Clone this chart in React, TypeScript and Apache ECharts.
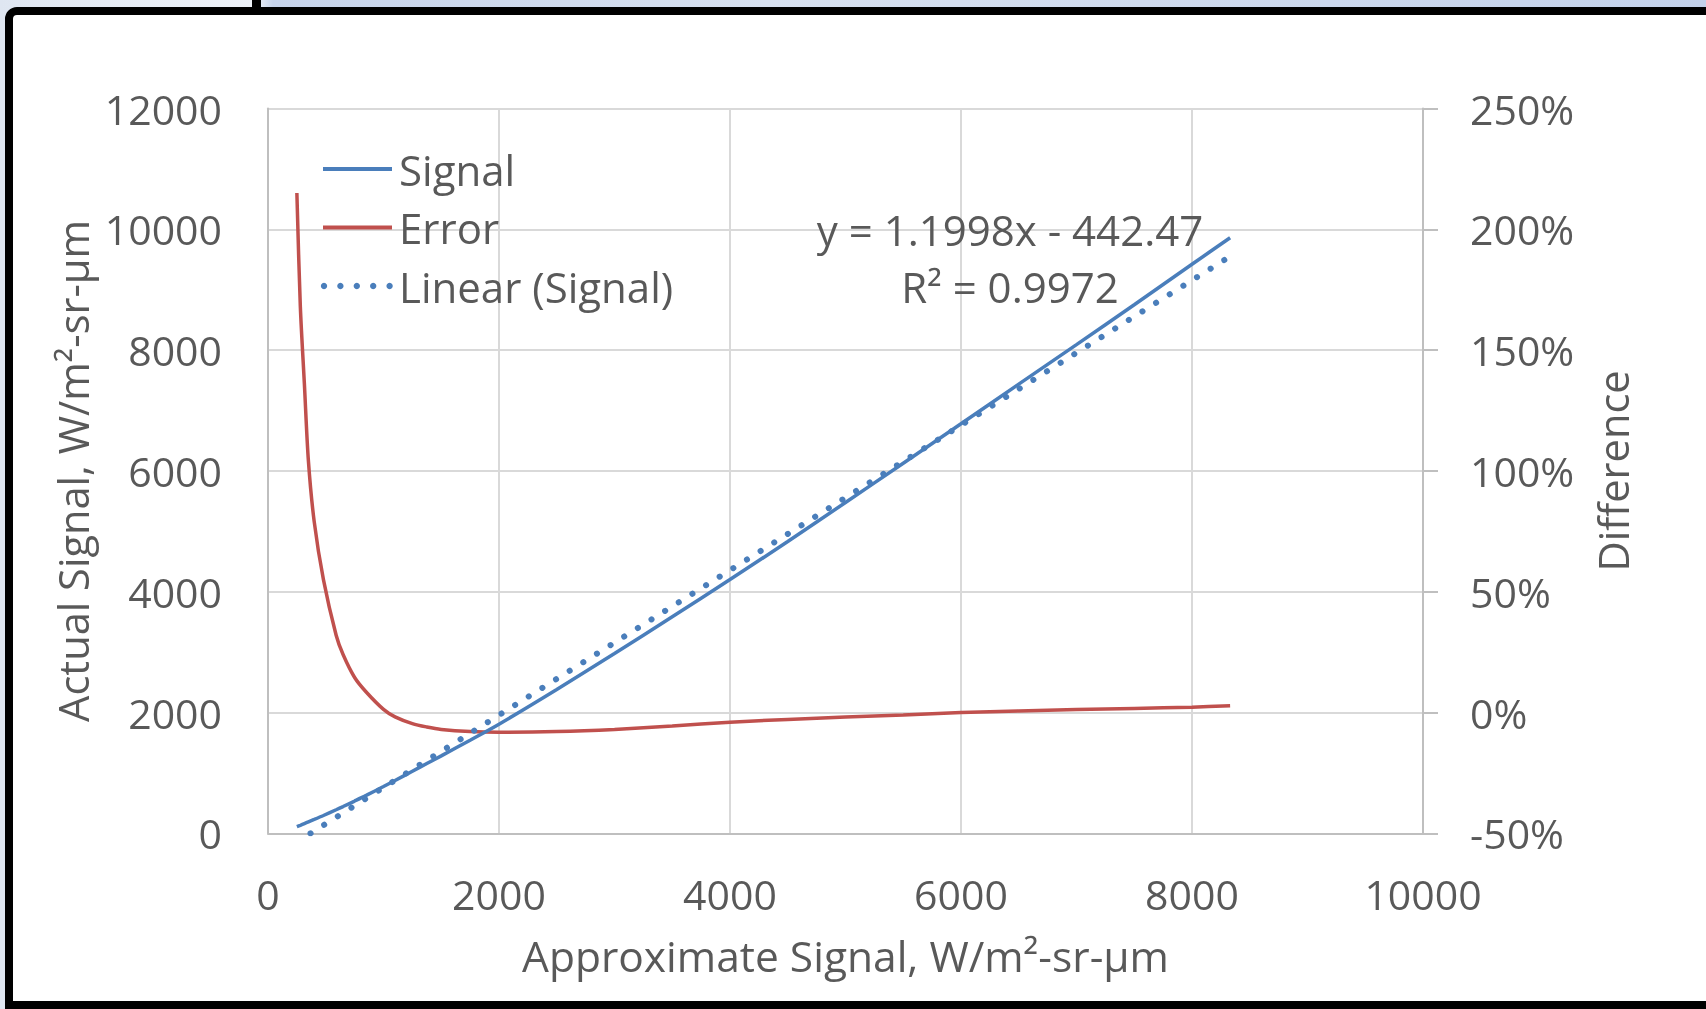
import React, { useEffect, useRef } from "react";
import * as echarts from "echarts";

// Approximate signal (x) shared by both measured series
const X_APPROX = [250, 280, 315, 350, 400, 480, 590, 650, 750, 850, 1000, 1100, 1250, 1375, 1500, 1750, 2000, 2500, 3000, 3500, 4000, 4500, 5000, 5500, 6000, 6500, 7000, 7500, 8000, 8330];
// Actual signal, W/m²-sr-μm
const SIGNAL = [110, 133, 161, 189, 229, 295, 390, 443, 534, 627, 774, 874, 1027, 1155, 1282, 1542, 1807, 2382, 2977, 3585, 4201, 4832, 5477, 6127, 6780, 7436, 8091, 8751, 9421, 9860];
// Difference, percent
const ERROR_PCT = [215, 168, 136, 104, 79, 55, 32, 24, 14.5, 8.5, 1.3, -1.8, -4.6, -6.0, -7.0, -7.9, -8.2, -7.9, -7.0, -5.6, -4.0, -2.9, -1.9, -1.0, 0.0, 0.6, 1.2, 1.7, 2.2, 2.8];

// Linear fit of the signal
const TREND_SLOPE = 1.1998;
const TREND_INTERCEPT = -442.47;
const R_SQUARED = 0.9972;

const X_TICKS = { min: 0, max: 10000, interval: 2000 };
const Y_TICKS = { min: 0, max: 12000, interval: 2000 };
const Y2_TICKS = { min: -50, max: 250, interval: 50 };

const LEGEND_NAMES = ["Signal", "Error", "Linear (Signal)"];

const FONT = "'Open Sans', 'Noto Sans', sans-serif";
const TEXT = "#595959";
const BLUE = "#4a7ebb";
const RED = "#c0504d";

export default function App() {
  const ref = useRef<HTMLDivElement>(null);

  useEffect(() => {
    const chart = echarts.init(ref.current!, null, { renderer: "svg" });

    const signalData = X_APPROX.map((x, i) => [x, SIGNAL[i]]);
    const errorData = X_APPROX.map((x, i) => [x, ERROR_PCT[i]]);
    const xFirst = X_APPROX[0];
    const xLast = X_APPROX[X_APPROX.length - 1];
    const trendData = [xFirst, xLast].map((x) => [x, TREND_SLOPE * x + TREND_INTERCEPT]);

    const eqText = `y = ${TREND_SLOPE}x - ${Math.abs(TREND_INTERCEPT)}`;
    const r2Text = `R² = ${R_SQUARED}`;

    // legend drawn as plain shapes: two solid keys and a dotted key
    const legendRows = [169, 227.5, 286];
    const legendKeyX1 = 323;
    const legendKeyX2 = 392;
    const legendGraphics: any[] = [
      {
        type: "line",
        silent: true,
        z: 10,
        shape: { x1: legendKeyX1, y1: legendRows[0], x2: legendKeyX2, y2: legendRows[0] },
        style: { stroke: BLUE, lineWidth: 4 },
      },
      {
        type: "line",
        silent: true,
        z: 10,
        shape: { x1: legendKeyX1, y1: legendRows[1], x2: legendKeyX2, y2: legendRows[1] },
        style: { stroke: RED, lineWidth: 4 },
      },
    ];
    for (let k = 0; k < 5; k++) {
      legendGraphics.push({
        type: "circle",
        silent: true,
        z: 10,
        shape: { cx: legendKeyX1 + 1 + k * 16.4, cy: legendRows[2], r: 3.2 },
        style: { fill: BLUE },
      });
    }
    LEGEND_NAMES.forEach((name, i) => {
      legendGraphics.push({
        type: "text",
        silent: true,
        z: 10,
        x: 399,
        y: legendRows[i],
        style: {
          text: name,
          fill: TEXT,
          font: `42px ${FONT}`,
          align: "left",
          verticalAlign: "middle",
        },
      });
    });

    const option: any = {
      animation: false,
      backgroundColor: "transparent",
      textStyle: { fontFamily: FONT },
      graphic: [
        // window backdrop behind the chart frame
        {
          type: "rect",
          z: -10,
          silent: true,
          shape: { x: 0, y: 0, width: 1706, height: 1009 },
          style: {
            fill: new echarts.graphic.LinearGradient(0, 0, 1, 0, [
              { offset: 0, color: "#dfe6f1" },
              { offset: 0.15, color: "#eef2f8" },
              { offset: 0.16, color: "#c6d3ea" },
              { offset: 0.45, color: "#d7e0ef" },
              { offset: 1, color: "#c3d1ea" },
            ]),
          },
        },
        {
          type: "rect",
          z: -9,
          silent: true,
          shape: { x: 252, y: 0, width: 9, height: 12 },
          style: { fill: "#000" },
        },
        {
          type: "rect",
          z: -8,
          silent: true,
          shape: { x: 9, y: 11, width: 1720, height: 994, r: [8, 0, 0, 0] },
          style: { fill: "#ffffff", stroke: "#000000", lineWidth: 8 },
        },
        // trendline equation
        {
          type: "text",
          z: 10,
          silent: true,
          x: 1010,
          y: 229,
          style: {
            text: eqText,
            fill: TEXT,
            font: `42px ${FONT}`,
            align: "center",
            verticalAlign: "middle",
          },
        },
        {
          type: "text",
          z: 10,
          silent: true,
          x: 1010,
          y: 286,
          style: {
            text: r2Text,
            fill: TEXT,
            font: `42px ${FONT}`,
            align: "center",
            verticalAlign: "middle",
          },
        },
        ...legendGraphics,
      ],
      grid: { left: 268, right: 283, top: 108.5, bottom: 175.7, containLabel: false },
      xAxis: {
        type: "value",
        ...X_TICKS,
        axisLine: { show: true, lineStyle: { color: "#bfbfbf", width: 2 } },
        axisTick: { show: false },
        axisLabel: { color: TEXT, fontSize: 41, fontFamily: FONT, margin: 40, formatter: (v: number) => String(v) },
        splitLine: { show: true, lineStyle: { color: "#d9d9d9", width: 2 } },
        name: "Approximate Signal, W/m²-sr-μm",
        nameLocation: "middle",
        nameGap: 101,
        nameTextStyle: { color: TEXT, fontSize: 42.5, fontFamily: FONT },
      },
      yAxis: [
        {
          type: "value",
          ...Y_TICKS,
          position: "left",
          axisLine: { show: true, lineStyle: { color: "#bfbfbf", width: 2 } },
          axisTick: { show: false },
          axisLabel: { color: TEXT, fontSize: 41, fontFamily: FONT, margin: 46, formatter: (v: number) => String(v) },
          splitLine: { show: true, lineStyle: { color: "#d9d9d9", width: 2 } },
          name: "Actual Signal, W/m²-sr-μm",
          nameLocation: "middle",
          nameRotate: 90,
          nameGap: 170,
          nameTextStyle: { color: TEXT, fontSize: 41.6, fontFamily: FONT },
        },
        {
          type: "value",
          ...Y2_TICKS,
          position: "right",
          axisLine: { show: true, lineStyle: { color: "#bfbfbf", width: 2 } },
          axisTick: { show: true, length: 15, lineStyle: { color: "#bfbfbf", width: 2 } },
          axisLabel: { color: TEXT, fontSize: 41, fontFamily: FONT, margin: 47, formatter: "{value}%" },
          splitLine: { show: false },
          name: "Difference",
          nameLocation: "middle",
          nameRotate: 90,
          nameGap: 169,
          nameTextStyle: { color: TEXT, fontSize: 41.6, fontFamily: FONT },
        },
      ],
      series: [
        {
          name: LEGEND_NAMES[0],
          type: "line",
          data: signalData,
          yAxisIndex: 0,
          showSymbol: false,
          symbol: "none",
          smooth: 0.3,
          lineStyle: { color: BLUE, width: 3.5 },
          z: 3,
        },
        {
          name: LEGEND_NAMES[1],
          type: "line",
          data: errorData,
          yAxisIndex: 1,
          showSymbol: false,
          symbol: "none",
          smooth: 0.3,
          lineStyle: { color: RED, width: 3.5 },
          z: 2,
        },
        {
          name: LEGEND_NAMES[2],
          type: "line",
          data: trendData,
          yAxisIndex: 0,
          showSymbol: false,
          symbol: "none",
          clip: true,
          lineStyle: { color: BLUE, width: 6, type: [0.1, 16], cap: "round" },
          z: 4,
        },
      ],
    };

    chart.setOption(option);
    return () => chart.dispose();
  }, []);

  return (
    <div
      ref={ref}
      style={{ position: "fixed", left: 0, top: 0, width: 1706, height: 1009 }}
    />
  );
}
